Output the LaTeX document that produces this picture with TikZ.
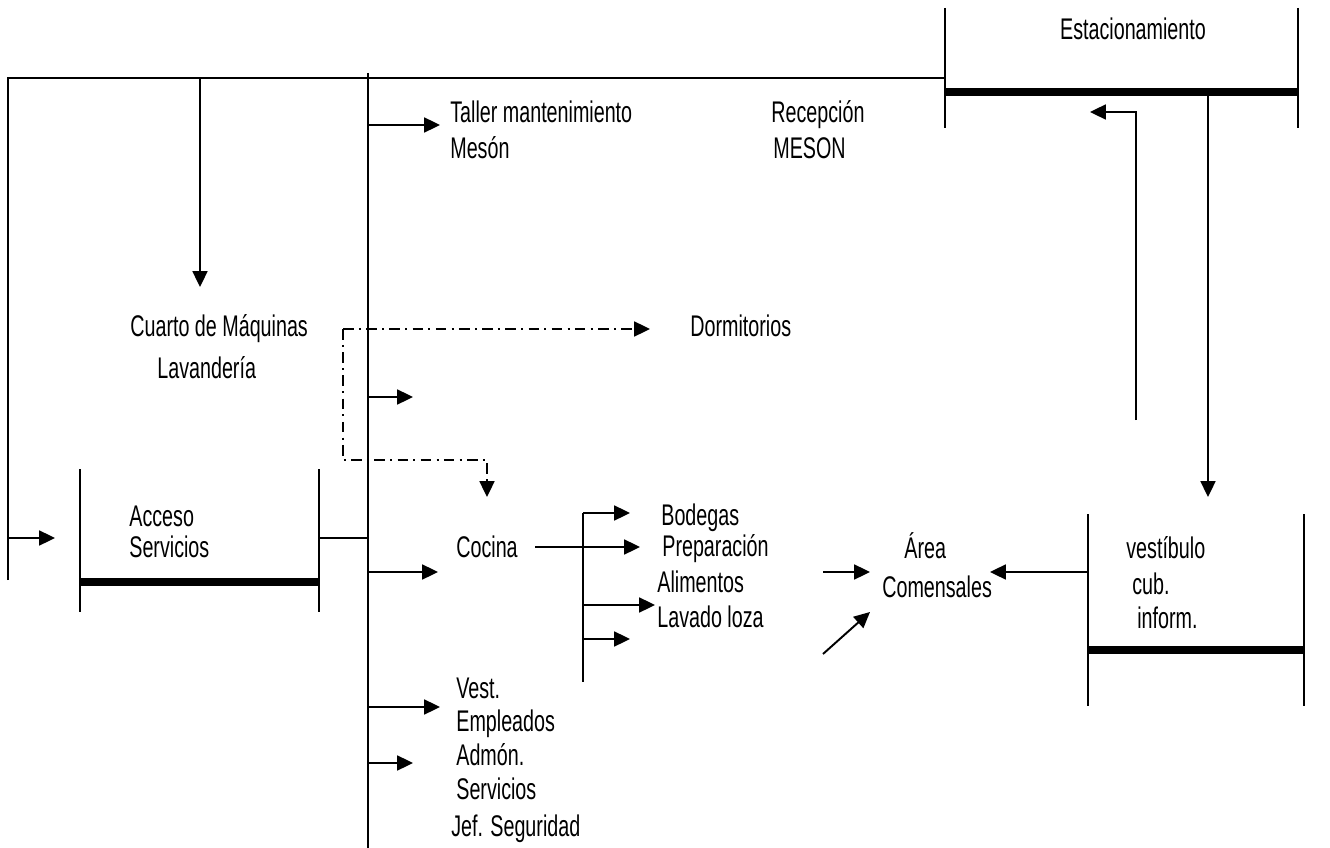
\documentclass[tikz,border=0pt]{standalone}
\usepackage{fontspec}
\setmainfont[FakeStretch=0.66]{Liberation Sans}
\usetikzlibrary{arrows.meta}
\begin{document}
\begin{tikzpicture}[x=0.02cm,y=-0.02cm,
  line/.style={line width=1.1pt},
  heavy/.style={line width=4pt},
  arr/.style={line width=1.1pt,-{Triangle[length=9pt,width=8.5pt]}},
  dd/.style={line width=1.1pt,dash pattern=on 6pt off 3pt on 1.2pt off 3pt},
  lbl/.style={anchor=base west,inner sep=0pt,font=\fontsize{17}{20}\selectfont}]
\useasboundingbox (0,0) rectangle (1330,848);
% labels
\node[lbl,anchor=base] (est) at (1133,40) {Estacionamiento};
\node[lbl] (taller) at (450,123) {Taller mantenimiento};
\node[lbl] (meson) at (450,159) {Mesón};
\node[lbl] (recep) at (771,123) {Recepción};
\node[lbl] (mesonb) at (773,159) {MESON};
\node[lbl] (cuarto) at (130,337) {Cuarto de Máquinas};
\node[lbl] (dorm) at (690,337) {Dormitorios};
\node[lbl] (lav) at (157,378) {Lavandería};
\node[lbl] (acc) at (129,526) {Acceso};
\node[lbl] (serv) at (129,557) {Servicios};
\node[lbl] (coc) at (456,557) {Cocina};
\node[lbl] (bod) at (661,525) {Bodegas};
\node[lbl] (prep) at (662,556) {Preparación};
\node[lbl] (alim) at (657,592) {Alimentos};
\node[lbl] (lavl) at (657,627) {Lavado loza};
\node[lbl] (area) at (904,558) {Área};
\node[lbl] (com) at (882,597) {Comensales};
\node[lbl] (vestib) at (1126,558) {vestíbulo};
\node[lbl] (cub) at (1132,594) {cub.};
\node[lbl] (inf) at (1137,628) {inform.};
\node[lbl] (vest) at (456,698) {Vest.};
\node[lbl] (empl) at (456,731) {Empleados};
\node[lbl] (adm) at (456,765) {Admón.};
\node[lbl] (servb) at (456,799) {Servicios};
\node[lbl] (jef) at (451,836) {Jef. Seguridad};
% coordinates
\coordinate (tl) at (8,78);
\coordinate (estl) at (945,78);
\coordinate (spt) at (368,73);
\coordinate (spb) at (368,848);
% main lines
\draw[line] (8,580) -- (tl) -- (estl);
\draw[line] (spt) -- (spb);
% Estacionamiento block
\draw[line] (945,8) -- (945,128);
\draw[line] (1298,8) -- (1298,128);
\draw[heavy] (945,92) -- (1298,92);
% Acceso Servicios block
\draw[line] (80,469) -- (80,612);
\draw[line] (319,469) -- (319,612);
\draw[heavy] (80,582) -- (319,582);
\draw[line] (319,538) -- (368,538);
% vestibulo block
\draw[line] (1088,514) -- (1088,706);
\draw[line] (1304,514) -- (1304,706);
\draw[heavy] (1088,650) -- (1304,650);
% cocina branch
\draw[line] (583,513) -- (583,682);
% arrows
\draw[arr] (200,78) -- (200,287);
\draw[arr] (368,125) -- (440,125);
\draw[arr] (368,397) -- (413,397);
\draw[arr] (8,538) -- (55,538);
\draw[arr] (368,572) -- (438,572);
\draw[arr] (535,547) -- (640,547);
\draw[arr] (583,513) -- (630,513);
\draw[arr] (583,605) -- (655,605);
\draw[arr] (583,639) -- (630,639);
\draw[arr] (823,572) -- (870,572);
\draw[arr] (823,654) -- (870,612);
\draw[arr] (1088,572) -- (990,572);
\draw[arr] (1208,92) -- (1208,497);
\draw[arr] (1136,420) -- (1136,112) -- (1090,112);
\draw[arr] (368,707) -- (440,707);
\draw[arr] (368,763) -- (413,763);
% dash-dot
\draw[dd,-{Triangle[length=9pt,width=8.5pt]}] (343,329) -- (650,329);
\draw[dd,-{Triangle[length=9pt,width=8.5pt]}] (343,329) -- (343,460) -- (487,460) -- (487,497);
\end{tikzpicture}
\end{document}
